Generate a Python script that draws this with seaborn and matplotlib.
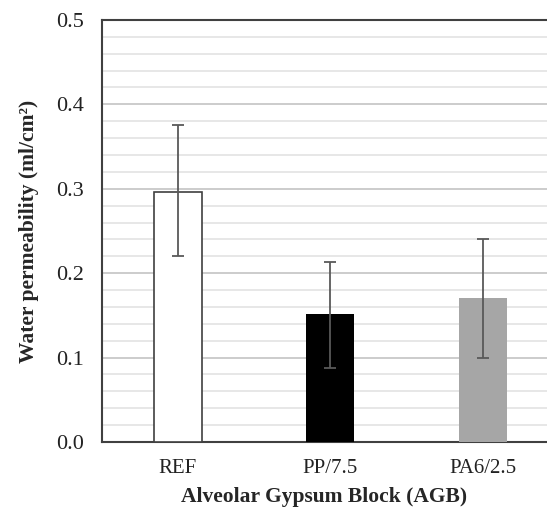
import numpy as np
import pandas as pd
import matplotlib
matplotlib.use("Agg")
import matplotlib.pyplot as plt
import seaborn as sns
from matplotlib.ticker import MultipleLocator

# Values
categories = ["REF", "PP/7.5", "PA6/2.5"]
permeability = [0.296, 0.152, 0.171]
err_lower = [0.220, 0.088, 0.100]
err_upper = [0.376, 0.213, 0.241]
bar_colors = ["#ffffff", "#000000", "#a6a6a6"]

data = pd.DataFrame({"group": categories, "value": permeability})

sns.set_style("white")
plt.rcParams["font.family"] = ["Liberation Serif", "DejaVu Serif"]

fig = plt.figure(figsize=(5.47, 5.11), dpi=100)
ax = fig.add_axes([0.186, 0.135, 0.814, 0.826])

sns.barplot(data=data, x="group", y="value", hue="group", palette=bar_colors,
            legend=False, width=0.315, ax=ax, zorder=3)
for i, patch in enumerate(ax.patches):
    if i == 0:
        patch.set_edgecolor("#404040")
        patch.set_linewidth(1.2)
    else:
        patch.set_edgecolor("none")

vals = np.array(permeability)
yerr = np.array([vals - np.array(err_lower), np.array(err_upper) - vals])
ax.errorbar(np.arange(len(categories)), vals, yerr=yerr, fmt="none",
            ecolor="#595959", elinewidth=1.3, capsize=4.3, capthick=1.3, zorder=4)

ax.set_ylim(0, 0.5)
ax.set_xlim(-0.5, 2.42)
ax.yaxis.set_major_locator(MultipleLocator(0.1))
ax.yaxis.set_minor_locator(MultipleLocator(0.02))
ax.yaxis.set_major_formatter(matplotlib.ticker.FormatStrFormatter("%.1f"))
ax.grid(which="major", axis="y", color="#c4c4c4", linewidth=1.2, zorder=0)
ax.grid(which="minor", axis="y", color="#e3e3e3", linewidth=1.2, zorder=0)
ax.set_axisbelow(True)

for side in ["left", "bottom", "top"]:
    ax.spines[side].set_visible(True)
    ax.spines[side].set_color("#404040")
    ax.spines[side].set_linewidth(1.5)
ax.spines["right"].set_visible(False)

ax.tick_params(axis="both", which="both", length=0, colors="#222222")
ax.tick_params(axis="y", labelsize=16, pad=13)
ax.tick_params(axis="x", labelsize=15, pad=12)

ax.set_xlabel("Alveolar Gypsum Block (AGB)", fontsize=15.5, fontweight="bold", labelpad=7)
ax.set_ylabel("Water permeability (ml/cm²)", fontsize=15.5, fontweight="bold", labelpad=12)

fig.savefig("out.png", dpi=100)
